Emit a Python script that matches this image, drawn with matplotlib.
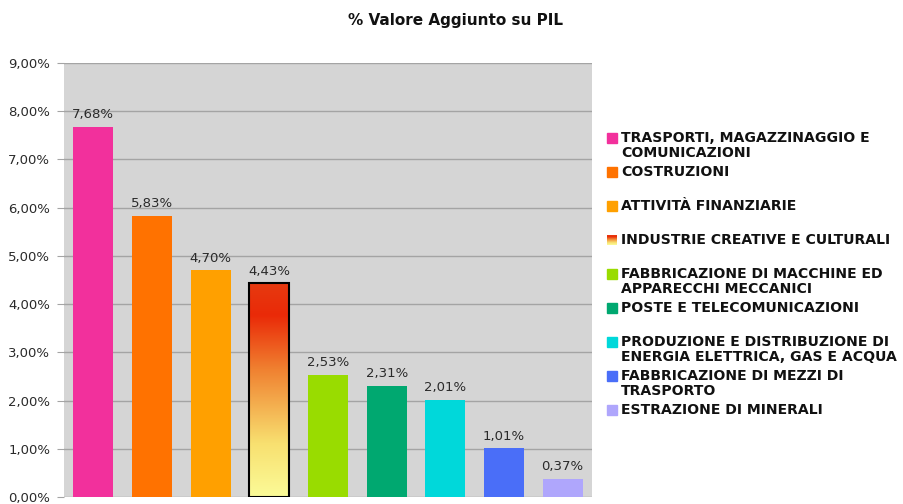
import numpy as np
import matplotlib
matplotlib.use('Agg')
import matplotlib.pyplot as plt
from matplotlib.patches import Rectangle

categories = [
    'TRASPORTI, MAGAZZINAGGIO E\nCOMUNICAZIONI',
    'COSTRUZIONI',
    'ATTIVITÀ FINANZIARIE',
    'INDUSTRIE CREATIVE E CULTURALI',
    'FABBRICAZIONE DI MACCHINE ED\nAPPARECCHI MECCANICI',
    'POSTE E TELECOMUNICAZIONI',
    'PRODUZIONE E DISTRIBUZIONE DI\nENERGIA ELETTRICA, GAS E ACQUA',
    'FABBRICAZIONE DI MEZZI DI\nTRASPORTO',
    'ESTRAZIONE DI MINERALI',
]
values = [7.68, 5.83, 4.70, 4.43, 2.53, 2.31, 2.01, 1.01, 0.37]
colors = ['#f2309c', '#ff7200', '#ffa000', None, '#99dc00',
          '#00a870', '#00d8da', '#4a6ef8', '#afa6fc']
yticks = [0, 1, 2, 3, 4, 5, 6, 7, 8, 9]


def it_pct(v):
    return ('%.2f%%' % v).replace('.', ',')


# gradient for the highlighted bar (red top -> pale yellow bottom)
grad_colors = matplotlib.colors.LinearSegmentedColormap.from_list(
    'cc', [(0.0, '#fbfb98'), (0.25, '#f8e070'), (0.6, '#f08030'),
           (0.85, '#ea2a08'), (1.0, '#e63a10')])

fig = plt.figure(figsize=(9.04, 5.04), dpi=100)
ax = fig.add_axes([64 / 904, 7 / 504, 528 / 904, 434 / 504])
ax.set_facecolor('#d5d5d5')

width = 0.68
for i, v in enumerate(values):
    if colors[i] is None:
        bar = ax.bar(i, v, width=width, color='none', edgecolor='black',
                     linewidth=1.5, zorder=4)[0]
        grad = np.linspace(0, 1, 256).reshape(-1, 1)
        im = ax.imshow(grad, cmap=grad_colors, origin='lower', aspect='auto',
                       extent=[i - width / 2, i + width / 2, 0, v], zorder=3)
        im.set_clip_path(bar)
    else:
        ax.bar(i, v, width=width, color=colors[i], linewidth=0, zorder=3)
    ax.text(i, v + 0.12, it_pct(v), ha='center', va='bottom',
            fontsize=9.5, color='#2a2a2a', zorder=5)

ax.set_xlim(-0.5, len(values) - 0.5)
ax.set_ylim(0, 9)
ax.set_yticks(yticks)
ax.set_yticklabels([it_pct(t) for t in yticks], fontsize=9.5, color='#2a2a2a')
ax.set_xticks([])
ax.grid(axis='y', color='#a4a4a4', linewidth=1, zorder=1)
ax.set_axisbelow(True)
ax.tick_params(axis='y', length=5, color='#a4a4a4', pad=5)
for s in ax.spines.values():
    s.set_visible(False)

fig.text(456 / 904, 1 - 20 / 504, '% Valore Aggiunto su PIL', ha='center',
         va='center', fontsize=11, fontweight='bold', color='#111111')

# legend drawn by hand
for i, label in enumerate(categories):
    ytop = 132 + 34 * i
    c = colors[i]
    if c is None:
        lax = fig.add_axes([607 / 904, 1 - (ytop + 11) / 504, 10 / 904, 10 / 504])
        lax.imshow(np.linspace(0, 1, 64).reshape(-1, 1), cmap=grad_colors,
                   origin='lower', aspect='auto')
        lax.axis('off')
    else:
        fig.patches.append(Rectangle((607 / 904, 1 - (ytop + 11) / 504),
                                     10 / 904, 10 / 504, color=c,
                                     transform=fig.transFigure, figure=fig))
    fig.text(621 / 904, 1 - (ytop - 1) / 504, label, ha='left', va='top',
             fontsize=10.1, fontweight='bold', color='#111111',
             linespacing=1.05)

fig.savefig('out.png', dpi=100)
